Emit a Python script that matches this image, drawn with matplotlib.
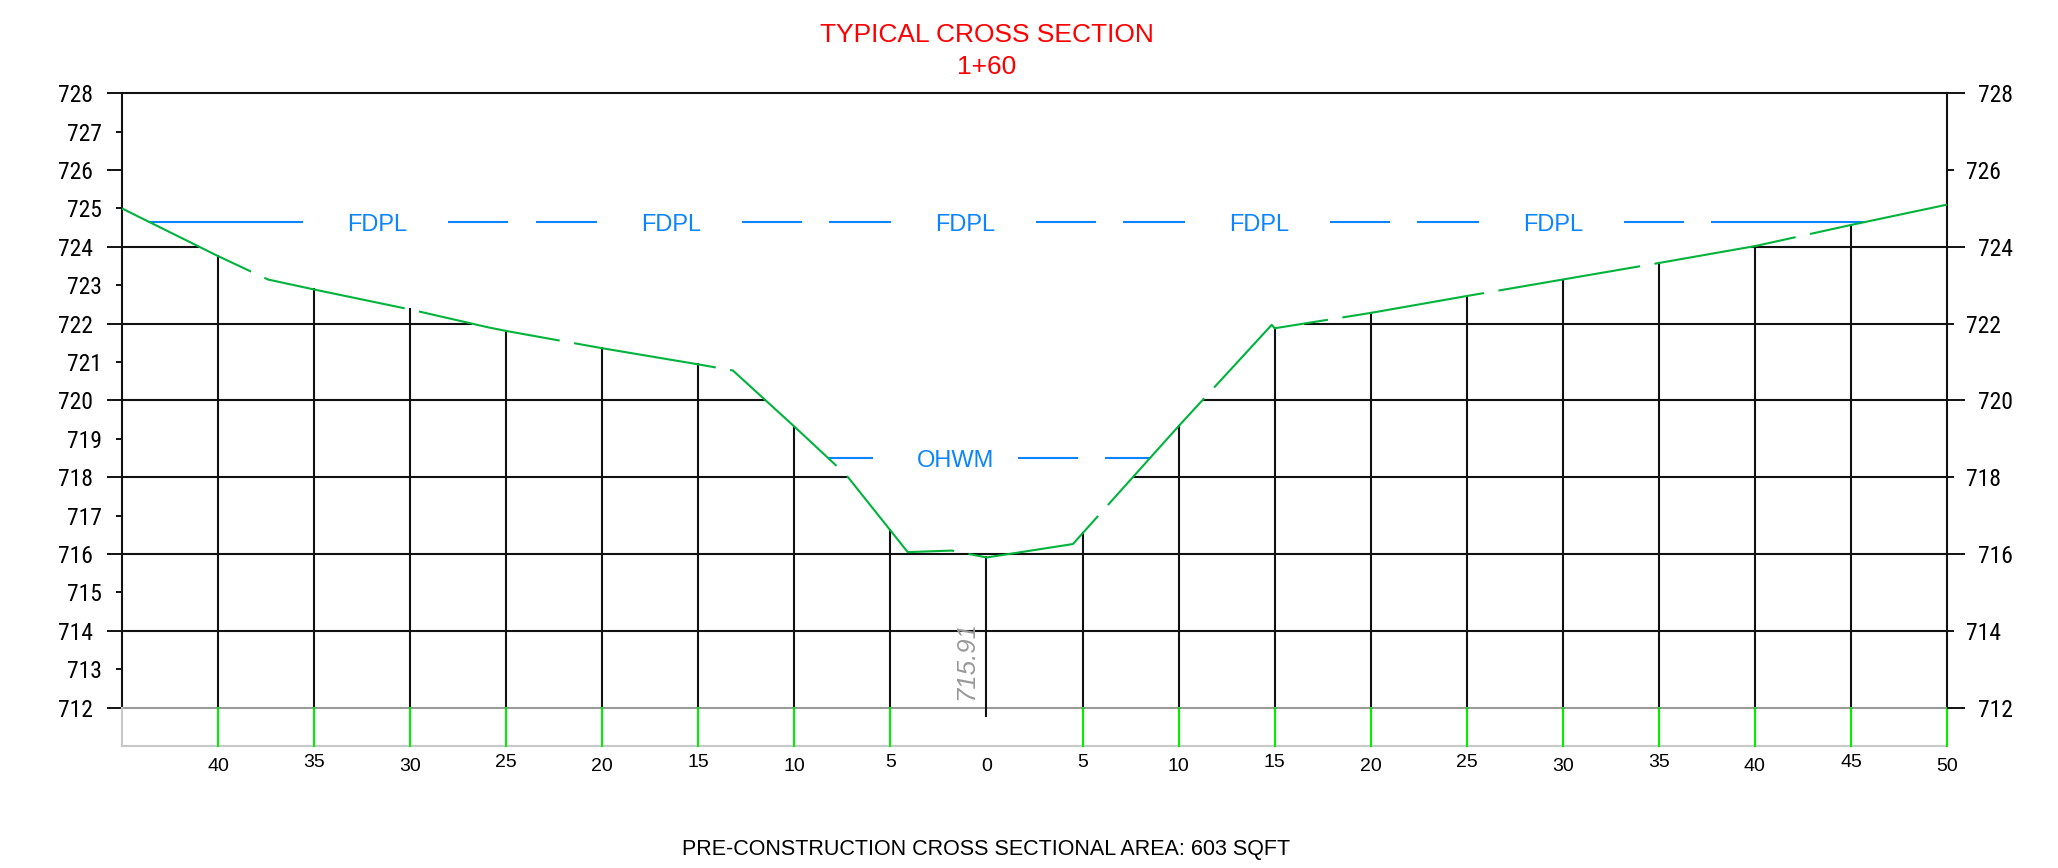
import numpy as np
import matplotlib
matplotlib.use("Agg")
import matplotlib.pyplot as plt
from matplotlib.ticker import FormatStrFormatter
from matplotlib.transforms import blended_transform_factory

plt.rcParams['font.family'] = ['Liberation Sans', 'DejaVu Sans']
plt.rcParams['lines.scale_dashes'] = False

# ground profile: station (ft) and elevation (ft)
ground_sta = [-45, -40, -37.4, -35, -30, -25.9, -25, -20, -15, -13.2, -10, -7.3,
              -4.1, -1.8, 0, 4.5, 10, 14.85, 15.0, 20, 25, 30, 35, 40, 45, 50]
ground_elev = [725.0, 723.76, 723.15, 722.89, 722.37, 721.9, 721.81, 721.36, 720.94,
               720.78, 719.32, 718.06, 716.05, 716.09, 715.91, 716.26, 719.33, 721.97,
               721.88, 722.28, 722.72, 723.15, 723.58, 724.02, 724.57, 725.1]

stations = [-40, -35, -30, -25, -20, -15, -10, -5, 0, 5, 10, 15, 20, 25, 30, 35, 40, 45, 50]
grid_elevs = [714, 716, 718, 720, 722, 724]

fdpl_elev = 724.65
ohwm_elev = 718.5

title = 'TYPICAL CROSS SECTION'
station_name = '1+60'
area_sqft = 603

x_min, x_max = -45, 50
base_elev, top_elev, band_elev = 712, 728, 711

BLACK = '#111111'
GREEN = '#00b33c'
BRIGHT = '#00ee00'
BLUE = '#0a84ff'
LW = 1.5
NARROW = ['Roboto Condensed', 'Liberation Sans']


def crossings(level):
    sta = np.array(ground_sta, dtype=float)
    z = np.array(ground_elev) - level
    pts = []
    for i in range(len(sta) - 1):
        if z[i] == 0:
            pts.append(sta[i])
        elif z[i] * z[i + 1] < 0:
            pts.append(sta[i] + (sta[i + 1] - sta[i]) * z[i] / (z[i] - z[i + 1]))
    return pts


def below_ground_spans(level, min_gap=3.0):
    s = np.linspace(x_min, x_max, 9501)
    above = np.interp(s, ground_sta, ground_elev) > level
    spans = []
    start = None
    for xi, a in zip(s, above):
        if a and start is None:
            start = xi
        elif not a and start is not None:
            spans.append([start, xi])
            start = None
    if start is not None:
        spans.append([start, s[-1]])
    merged = []
    for sp in spans:
        if merged and sp[0] - merged[-1][1] < min_gap:
            merged[-1][1] = sp[1]
        else:
            merged.append(sp)
    return merged


def text_line(ax, level, label):
    # CAD style linetype with text, pattern centred between the ground crossings
    cr = crossings(level)
    s0, s1 = cr[0], cr[-1]
    blank, d1, gap, d2, pad = 7.55, 3.10, 1.44, 3.21, 2.29
    period = blank + d1 + gap + d2
    n = int((s1 - s0 + d2 - 3.0) // period)
    lead = (s1 - s0 - n * (blank + d1 + gap) - (n - 1) * d2) / 2
    segs = [(s0, s0 + lead)]
    for k in range(n):
        b = s0 + lead + k * period
        ax.annotate(label, (b + pad, level), xytext=(0, -6.2), textcoords='offset points',
                    ha='left', va='baseline', color=BLUE, fontsize=17, zorder=6)
        segs.append((b + blank, b + blank + d1))
        end = b + blank + d1 + gap + d2 if k < n - 1 else s1
        segs.append((b + blank + d1 + gap, end))
    for a, b in segs:
        ax.plot([a, b], [level, level], color=BLUE, lw=LW, solid_capstyle='butt', zorder=4)


fig = plt.figure(figsize=(20.58, 8.68), dpi=100)
ax = fig.add_axes([0.05928, 0.14055, 0.88678, 0.75196])
ax.set_xlim(x_min, x_max)
ax.set_ylim(band_elev, top_elev)
for sp in ax.spines.values():
    sp.set_visible(False)
ax.tick_params(axis='x', bottom=False, labelbottom=False)

# left elevation axis
ax.set_yticks(np.arange(base_elev, top_elev + 1, 2))
ax.set_yticks(np.arange(base_elev + 1, top_elev, 2), minor=True)
ax.yaxis.set_major_formatter(FormatStrFormatter('%d'))
ax.yaxis.set_minor_formatter(FormatStrFormatter('%d'))
ax.tick_params(axis='y', which='major', length=11, width=1.4, pad=10, labelsize=17,
               color=BLACK, labelfontfamily=NARROW)
ax.tick_params(axis='y', which='minor', length=4.3, width=1.4, pad=10, labelsize=17,
               color=BLACK, labelfontfamily=NARROW)

# right elevation axis
ax2 = ax.twinx()
ax2.set_ylim(band_elev, top_elev)
for sp in ax2.spines.values():
    sp.set_visible(False)
ax2.set_yticks(np.arange(base_elev, top_elev + 1, 4))
ax2.set_yticks(np.arange(base_elev + 2, top_elev, 4), minor=True)
ax2.yaxis.set_major_formatter(FormatStrFormatter('%d'))
ax2.yaxis.set_minor_formatter(FormatStrFormatter('%d'))
ax2.tick_params(axis='y', which='major', length=13, width=1.4, pad=9, labelsize=17,
                color=BLACK, labelfontfamily=NARROW)
ax2.tick_params(axis='y', which='minor', length=4.75, width=1.4, pad=9, labelsize=17,
                color=BLACK, labelfontfamily=NARROW)

# frame
ax.plot([x_min, x_max], [top_elev, top_elev], color=BLACK, lw=LW, clip_on=False)
ax.plot([x_min, x_min], [base_elev, top_elev], color=BLACK, lw=LW, clip_on=False)
ax.plot([x_max, x_max], [base_elev, top_elev], color=BLACK, lw=LW, clip_on=False)

# station band under the section
ax.plot([x_min, x_max], [base_elev, base_elev], color='#9a9a9a', lw=LW, clip_on=False, zorder=2)
ax.plot([x_min, x_max], [band_elev, band_elev], color='#c8c8c8', lw=LW, clip_on=False)
ax.plot([x_min, x_min], [band_elev, base_elev], color='#c8c8c8', lw=LW, clip_on=False)

# horizontal grid clipped to the ground
for e in grid_elevs:
    for a, b in below_ground_spans(e):
        ax.plot([a, b], [e, e], color=BLACK, lw=LW, solid_capstyle='butt', clip_on=False)

# station lines
for s in stations:
    gz = np.interp(s, ground_sta, ground_elev)
    if s == 0:
        ax.plot([s, s], [base_elev - 0.23, gz], color=BLACK, lw=LW, clip_on=False, zorder=3)
    else:
        if s != x_max:
            ax.plot([s, s], [base_elev, gz], color=BLACK, lw=LW, clip_on=False, zorder=2)
        ax.plot([s, s], [band_elev, base_elev], color=BRIGHT, lw=LW, clip_on=False, zorder=3)
    off = -17.8 if s % 10 == 0 else -14.9
    ax.annotate(f'{abs(s)}', (s, band_elev), xytext=(0, off), textcoords='offset points',
                ha='center', va='baseline', fontsize=14, annotation_clip=False)

# ground line
ax.plot(ground_sta, ground_elev, color=GREEN, lw=LW, linestyle=(0, (103.5, 10.5)),
        clip_on=False, zorder=5)

# FDPL and OHWM
text_line(ax, fdpl_elev, 'FDPL')
text_line(ax, ohwm_elev, 'OHWM')

# thalweg elevation
thalweg = np.interp(0, ground_sta, ground_elev)
ax.annotate(f'{thalweg:.2f}', (0, base_elev + 0.2), xytext=(-6, 0), textcoords='offset points',
            rotation=90, ha='right', va='bottom', color='#999999', fontsize=18.5,
            style='italic')

tr = blended_transform_factory(ax.transData, fig.transFigure)
ax.text(0, 0.952, title, transform=tr, ha='center', va='baseline', color='red', fontsize=19)
ax.text(0, 0.9147, station_name, transform=tr, ha='center', va='baseline', color='red', fontsize=19)
ax.text(0, 0.0155, f'PRE-CONSTRUCTION CROSS SECTIONAL AREA: {area_sqft} SQFT', transform=tr,
        ha='center', va='baseline', color='black', fontsize=15.5)

fig.savefig('out.png', dpi=100)
